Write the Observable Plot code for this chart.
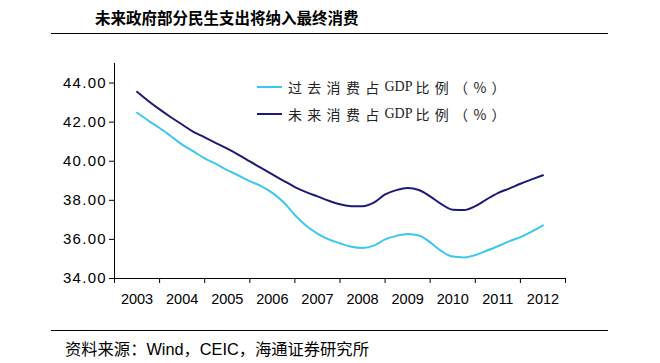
<!DOCTYPE html>
<html><head><meta charset="utf-8">
<script src="https://cdn.jsdelivr.net/npm/d3@7"></script>
<script src="https://cdn.jsdelivr.net/npm/@observablehq/plot@0.6"></script>
<style>
body{margin:0;background:#fff;width:660px;height:363px;position:relative;overflow:hidden;font-family:"Liberation Sans",Arial,sans-serif}
#title{position:absolute;left:95px;top:6px;font-weight:bold;font-size:15.5px;font-family:"Noto Sans CJK SC";color:#000;white-space:nowrap;line-height:22px}
.hr{position:absolute;left:51px;width:557px;height:0;border-top:1.5px solid #000}
#chart{position:absolute;left:0;top:40px}
#legend{position:absolute;left:257px;top:74px;font-family:"Noto Sans CJK SC";font-size:14px;color:#222}
.item{height:26.7px;display:flex;align-items:center;white-space:nowrap}
.sw{display:inline-block;width:25px;height:0;border-top:2.5px solid;margin-right:6px}
.cj{letter-spacing:5.3px}
.la{font-family:"Liberation Serif";letter-spacing:0px;margin-right:3px}
#source{position:absolute;left:65px;top:339px;font-size:16.3px;line-height:20px;white-space:nowrap;font-family:"Liberation Sans","Noto Sans CJK SC";color:#000}
g[aria-label="y-axis tick label"] text{letter-spacing:1.3px}
</style></head>
<body>
<div id="title"></div>
<div class="hr" style="top:33px"></div>
<div id="chart"></div>
<div id="legend"></div>
<div class="hr" style="top:330px"></div>
<div id="source"></div>
<script>
const titleText = "未来政府部分民生支出将纳入最终消费";
const sourceText = "资料来源：Wind，CEIC，海通证券研究所";
const years = [2003,2004,2005,2006,2007,2008,2009,2010,2011,2012];
const yTicks = [34,36,38,40,42,44];
const periods = [2003,2003.25,2003.5,2003.75,2004,2004.25,2004.5,2004.75,2005,2005.25,2005.5,2005.75,2006,2006.25,2006.5,2006.75,2007,2007.25,2007.5,2007.75,2008,2008.25,2008.5,2008.75,2009,2009.25,2009.5,2009.75,2010,2010.25,2010.5,2010.75,2011,2011.25,2011.5,2011.75,2012];
const seriesNames = ["过去消费占GDP比例（%）","未来消费占GDP比例（%）"];
const seriesColors = ["#3cc8ee","#1c1a78"];
const pastValues = [42.48,42.08,41.70,41.28,40.85,40.50,40.15,39.86,39.55,39.27,38.98,38.73,38.38,37.90,37.25,36.70,36.30,36.00,35.80,35.62,35.56,35.68,36.00,36.18,36.28,36.20,35.85,35.40,35.12,35.08,35.20,35.42,35.65,35.90,36.12,36.40,36.72];
const futureValues = [43.55,43.08,42.65,42.25,41.88,41.50,41.22,40.93,40.64,40.33,39.99,39.66,39.33,39.00,38.68,38.42,38.20,37.98,37.80,37.70,37.70,37.88,38.30,38.52,38.63,38.53,38.20,37.80,37.52,37.50,37.70,38.05,38.37,38.60,38.85,39.07,39.28];

document.getElementById("title").textContent = titleText;
document.getElementById("source").textContent = sourceText;

const legend = document.getElementById("legend");
seriesNames.forEach((name, i) => {
  const m = name.match(/^(.*?)(GDP)(.*)$/);
  const item = document.createElement("div"); item.className = "item";
  const sw = document.createElement("span"); sw.className = "sw"; sw.style.borderColor = seriesColors[i];
  const a = document.createElement("span"); a.className = "cj"; a.textContent = m[1];
  const b = document.createElement("span"); b.className = "la"; b.textContent = m[2];
  const c = document.createElement("span"); c.className = "cj"; c.textContent = m[3];
  item.append(sw, a, b, c); legend.append(item);
});

const rows = (vals, s) => periods.map((t, i) => ({t, v: vals[i], s}));
const data = [...rows(pastValues, seriesNames[0]), ...rows(futureValues, seriesNames[1])];
const edges = years.map(y => y - 0.5).concat([years[years.length - 1] + 0.5]);

const chart = Plot.plot({
  width: 660, height: 280,
  marginLeft: 114, marginRight: 95, marginTop: 23, marginBottom: 42,
  x: {domain: [edges[0], edges[edges.length - 1]]},
  y: {domain: [34, 45]},
  color: {domain: seriesNames, range: seriesColors},
  style: {fontFamily: "Liberation Sans, Arial, sans-serif", fontSize: "15px", color: "#000", background: "transparent"},
  marks: [
    Plot.axisY({ticks: yTicks, tickFormat: d => d.toFixed(2), tickSize: 5, tickPadding: 2.5, label: null, fontSize: 15}),
    Plot.axisX({ticks: edges, tickFormat: () => "", tickSize: 5, label: null}),
    Plot.axisX({ticks: years, tickFormat: d => String(d), tickSize: 0, tickPadding: 15, label: null, fontSize: 14.5}),
    Plot.ruleX([edges[0]], {stroke: "#000", strokeWidth: 1}),
    Plot.ruleY([34], {stroke: "#000", strokeWidth: 1}),
    Plot.line(data, {x: "t", y: "v", z: "s", stroke: "s", strokeWidth: 2, curve: "monotone-x"})
  ]
});
document.getElementById("chart").append(chart);
</script>
</body></html>
